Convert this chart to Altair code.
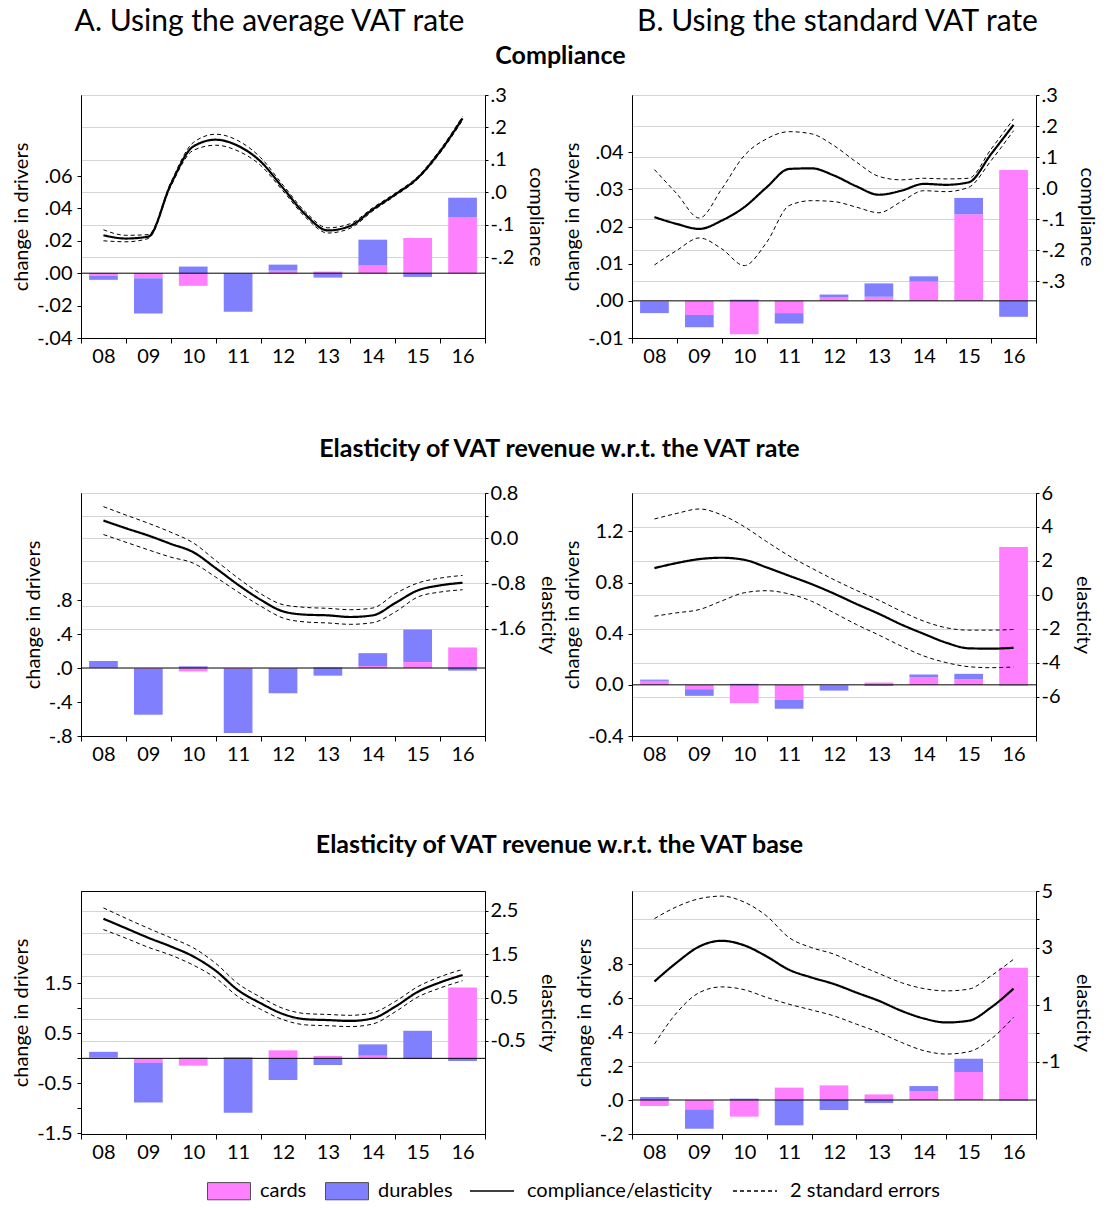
import json
import altair as alt
import pandas as pd

# ---------------- data ----------------
YEARS = ["08", "09", "10", "11", "12", "13", "14", "15", "16"]
IDX = [0, 1, 2, 3, 4, 5, 6, 7, 8]
POS = [0, 0.5, 1, 1.5, 2, 2.5, 3, 3.5, 4, 4.5, 5, 5.5, 6, 6.5, 7, 7.5, 8]
X_TICKS = [-0.5, 0.5, 1.5, 2.5, 3.5, 4.5, 5.5, 6.5, 7.5, 8.5]

SERIES = ["cards", "durables"]
LINE_NAMES = ["compliance/elasticity", "2 standard errors"]
PINK = "#ff80ff"
BLUE = "#8080ff"

HEAD_A = "A. Using the average VAT rate"
HEAD_B = "B. Using the standard VAT rate"
SECTIONS = ["Compliance",
            "Elasticity of VAT revenue w.r.t. the VAT rate",
            "Elasticity of VAT revenue w.r.t. the VAT base"]

# Panel A1: compliance, average rate
A1_CARDS = [-0.0016, -0.0031, -0.0078, -0.0004, 0.0016, 0.0010, 0.0047, 0.0218, 0.0347]
A1_DURABLES = [-0.0025, -0.0218, 0.0041, -0.0234, 0.0037, -0.0027, 0.0160, -0.0023, 0.0119]
A1_LINE = [-0.133, -0.143, -0.137, 0.024, 0.141, 0.162, 0.143, 0.095, 0.013, -0.069, -0.118,
           -0.104, -0.053, -0.007, 0.044, 0.126, 0.228]
A1_UPPER = [-0.116, -0.133, -0.131, 0.030, 0.153, 0.179, 0.159, 0.107, 0.022, -0.061, -0.110,
            -0.097, -0.048, -0.003, 0.048, 0.131, 0.234]
A1_LOWER = [-0.150, -0.153, -0.143, 0.018, 0.129, 0.145, 0.127, 0.083, 0.004, -0.077, -0.126,
            -0.111, -0.058, -0.011, 0.040, 0.121, 0.222]
A1_LDOM, A1_RDOM = [-0.04, 0.11], [-0.45, 0.30]
A1_LT = [-0.04, -0.02, 0, 0.02, 0.04, 0.06]
A1_LL = ["-.04", "-.02", ".00", ".02", ".04", ".06"]
A1_RT = [-0.2, -0.1, 0, 0.1, 0.2, 0.3]
A1_RL = ["-.2", "-.1", ".0", ".1", ".2", ".3"]

# Panel B1: compliance, standard rate
B1_CARDS = [-0.0002, -0.0038, -0.0090, -0.0033, 0.0009, 0.0011, 0.0052, 0.0233, 0.0352]
B1_DURABLES = [-0.0031, -0.0033, 0.0003, -0.0028, 0.0008, 0.0036, 0.0014, 0.0044, -0.0043]
B1_LINE = [-0.093, -0.115, -0.131, -0.104, -0.061, 0.003, 0.062, 0.064, 0.041, 0.006, -0.021,
           -0.008, 0.014, 0.011, 0.019, 0.110, 0.204]
B1_UPPER = [0.060, -0.018, -0.096, -0.002, 0.105, 0.159, 0.182, 0.175, 0.137, 0.084, 0.038,
            0.027, 0.032, 0.030, 0.032, 0.126, 0.223]
B1_LOWER = [-0.247, -0.200, -0.160, -0.195, -0.249, -0.174, -0.056, -0.040, -0.043, -0.061,
            -0.079, -0.043, -0.008, -0.011, 0.003, 0.089, 0.185]
B1_LDOM, B1_RDOM = [-0.01, 0.0554], [-0.482, 0.30]
B1_LT = [-0.01, 0, 0.01, 0.02, 0.03, 0.04]
B1_LL = ["-.01", ".00", ".01", ".02", ".03", ".04"]
B1_RT = [-0.3, -0.2, -0.1, 0, 0.1, 0.2, 0.3]
B1_RL = ["-.3", "-.2", "-.1", ".0", ".1", ".2", ".3"]

# Panel A2: elasticity wrt rate, average rate
A2_CARDS = [0.003, -0.008, -0.040, -0.008, -0.004, 0.012, 0.023, 0.070, 0.242]
A2_DURABLES = [0.080, -0.543, 0.020, -0.758, -0.293, -0.090, 0.152, 0.383, -0.031]
A2_LINE = [0.312, 0.176, 0.047, -0.100, -0.247, -0.529, -0.824, -1.088, -1.294, -1.353, -1.365,
           -1.394, -1.365, -1.147, -0.924, -0.835, -0.788]
A2_UPPER = [0.559, 0.410, 0.265, 0.106, -0.082, -0.394, -0.706, -0.982, -1.176, -1.224, -1.241,
            -1.265, -1.235, -0.982, -0.794, -0.706, -0.659]
A2_LOWER = [0.065, -0.071, -0.206, -0.335, -0.441, -0.688, -0.953, -1.200, -1.412, -1.482, -1.500,
            -1.524, -1.494, -1.306, -1.041, -0.953, -0.912]
A2_LDOM, A2_RDOM = [-0.8, 2.06], [-3.5, 0.8]
A2_LT = [-0.8, -0.4, 0, 0.4, 0.8]
A2_LL = ["-.8", "-.4", ".0", ".4", ".8"]
A2_RT = [-1.6, -1.2, -0.8, -0.4, 0, 0.4, 0.8]
A2_RL = ["-1.6", "", "-0.8", "", "0.0", "", "0.8"]

# Panel B2: elasticity wrt rate, standard rate
B2_CARDS = [0.031, -0.034, -0.143, -0.117, -0.008, 0.018, 0.060, 0.044, 1.077]
B2_DURABLES = [0.010, -0.052, 0.008, -0.070, -0.037, -0.008, 0.021, 0.042, -0.005]
B2_LINE = [1.58, 1.88, 2.11, 2.19, 2.07, 1.62, 1.13, 0.64, 0.08, -0.53, -1.11, -1.74, -2.29,
           -2.81, -3.14, -3.16, -3.11]
B2_UPPER = [4.47, 4.80, 5.06, 4.71, 4.02, 3.14, 2.30, 1.58, 0.90, 0.27, -0.31, -0.96, -1.54,
            -1.93, -2.07, -2.07, -2.03]
B2_LOWER = [-1.25, -1.05, -0.86, -0.35, 0.13, 0.25, 0.06, -0.37, -1.05, -1.74, -2.36, -3.01,
            -3.59, -3.98, -4.22, -4.28, -4.24]
B2_LDOM, B2_RDOM = [-0.4, 1.5], [-8.3, 6.0]
B2_LT = [-0.4, 0, 0.4, 0.8, 1.2]
B2_LL = ["-0.4", "0.0", "0.4", "0.8", "1.2"]
B2_RT = [-6, -4, -2, 0, 2, 4, 6]
B2_RL = ["-6", "-4", "-2", "0", "2", "4", "6"]

# Panel A3: elasticity wrt base, average rate
A3_CARDS = [0.023, -0.090, -0.146, 0.027, 0.160, 0.047, 0.053, -0.015, 1.414]
A3_DURABLES = [0.107, -0.790, 0.013, -1.085, -0.432, -0.133, 0.226, 0.550, -0.053]
A3_LINE = [2.32, 2.10, 1.88, 1.68, 1.45, 1.12, 0.67, 0.37, 0.12, 0.00, -0.02, -0.04, 0.02,
           0.29, 0.63, 0.85, 1.02]
A3_UPPER = [2.57, 2.33, 2.10, 1.88, 1.65, 1.29, 0.82, 0.51, 0.25, 0.13, 0.11, 0.09, 0.15,
            0.41, 0.75, 0.98, 1.15]
A3_LOWER = [2.07, 1.87, 1.66, 1.48, 1.25, 0.95, 0.52, 0.23, -0.01, -0.13, -0.15, -0.17, -0.11,
            0.17, 0.51, 0.72, 0.89]
A3_LDOM, A3_RDOM = [-1.51, 3.34], [-2.65, 2.96]
A3_LT = [-1.5, -1.0, -0.5, 0, 0.5, 1.0, 1.5]
A3_LL = ["-1.5", "", "-0.5", "", "0.5", "", "1.5"]
A3_RT = [-0.5, 0, 0.5, 1.0, 1.5, 2.0, 2.5]
A3_RL = ["-0.5", "", "0.5", "", "1.5", "", "2.5"]

# Panel B3: elasticity wrt base, standard rate
B3_CARDS = [-0.035, -0.055, -0.098, 0.073, 0.086, 0.033, 0.051, 0.165, 0.778]
B3_DURABLES = [0.018, -0.114, 0.008, -0.149, -0.059, -0.018, 0.031, 0.078, -0.003]
B3_LINE = [1.82, 2.49, 3.05, 3.25, 3.09, 2.70, 2.23, 1.96, 1.73, 1.43, 1.14, 0.79, 0.52, 0.38,
           0.44, 0.91, 1.57]
B3_UPPER = [4.03, 4.45, 4.73, 4.82, 4.61, 4.12, 3.36, 3.01, 2.78, 2.43, 2.10, 1.78, 1.57, 1.49,
            1.55, 2.02, 2.60]
B3_LOWER = [-0.38, 0.73, 1.43, 1.63, 1.53, 1.26, 1.02, 0.82, 0.61, 0.32, 0.03, -0.32, -0.61,
            -0.73, -0.65, -0.20, 0.56]
B3_LDOM, B3_RDOM = [-0.2, 1.23], [-3.54, 5.0]
B3_LT = [-0.2, 0, 0.2, 0.4, 0.6, 0.8]
B3_LL = ["-.2", ".0", ".2", ".4", ".6", ".8"]
B3_RT = [-1, 0, 1, 2, 3, 4, 5]
B3_RL = ["-1", "", "1", "", "3", "", "5"]

# ---------------- styling / layout ----------------
FONT = "Lato"
W, H = 404, 243
FS = 20

XLABEL_EXPR = "datum.value < 8 ? " + json.dumps(YEARS) + "[datum.value + 0.5] : ''"


def label_expr(vals, labs):
    parts = " : ".join(f"datum.value == {v} ? '{l}'" for v, l in zip(vals, labs))
    return parts + " : ''"


LEG_COLOR = alt.Legend(orient="none", legendX=126, legendY=1074, direction="horizontal",
                       title=None, symbolType="M-1,-0.4H1V0.4H-1Z", symbolSize=1849,
                       symbolStrokeColor="#505050", symbolStrokeWidth=1, labelOffset=9,
                       columnPadding=16, labelFontSize=FS, labelFont=FONT, labelLimit=0)
LEG_LINE = alt.Legend(orient="none", legendX=388, legendY=1073, direction="horizontal",
                      title=None, symbolType="stroke", symbolSize=1936, symbolStrokeWidth=1.6,
                      symbolStrokeColor="black", labelOffset=12, columnPadding=16,
                      labelFontSize=FS, labelFont=FONT, labelLimit=0)

XAXIS = alt.Axis(values=X_TICKS, labelExpr=XLABEL_EXPR, labelOffset=W / 18, tickSize=5,
                 grid=False, title=None, labelFlush=False, labelOverlap=False,
                 labelPadding=3, labelAlign="center")


def panel(cards, durables, line, upper, lower, ldom, rdom, lt, ll, rt, rl, rtitle, texts):
    xs = alt.Scale(domain=[-0.5, 8.5], nice=False, zero=False)
    ls = alt.Scale(domain=ldom, nice=False, zero=False)
    rs = alt.Scale(domain=rdom, nice=False, zero=False)

    bars_df = pd.DataFrame({
        "idx": IDX * 2,
        "series": ["cards"] * 9 + ["durables"] * 9,
        "order": [0] * 9 + [1] * 9,
        "value": cards + durables,
    })
    laxis = alt.Axis(orient="left", values=lt, labelExpr=label_expr(lt, ll),
                     title="change in drivers", grid=False, tickSize=4, labelOverlap=False,
                     titlePadding=5, labelPadding=5)
    raxis = alt.Axis(orient="right", values=rt, labelExpr=label_expr(rt, rl), title=rtitle,
                     grid=True, gridColor="#d4d4d4", tickSize=3, labelOverlap=False,
                     titlePadding=12, labelPadding=2)

    bars = alt.Chart(bars_df).transform_stack(
        stack="value", groupby=["idx"], as_=["v0", "v1"],
        sort=[alt.SortField("order", order="ascending")], offset="zero"
    ).transform_calculate(
        x0="datum.idx - 0.32", x1="datum.idx + 0.32"
    ).mark_bar().encode(
        x=alt.X("x0:Q", scale=xs, axis=XAXIS),
        x2="x1:Q",
        y=alt.Y("v0:Q", scale=ls, axis=laxis),
        y2="v1:Q",
        color=alt.Color("series:N", scale=alt.Scale(domain=SERIES, range=[PINK, BLUE]),
                        legend=LEG_COLOR),
    )
    zero = alt.Chart(pd.DataFrame({"z": [0]})).mark_rule(color="black", strokeWidth=1).encode(
        y=alt.Y("z:Q", scale=ls, axis=laxis)
    )
    layers = [bars, zero]
    for (t, x, y, size, weight) in texts:
        layers.append(
            alt.Chart(pd.DataFrame({"t": [t]})).mark_text(
                font=FONT, fontSize=size, fontWeight=weight, color="black",
                align="center", baseline="middle"
            ).encode(text="t:N", x=alt.value(x), y=alt.value(y))
        )
    left_layer = alt.layer(*layers)

    n = len(POS)
    line_df = pd.DataFrame({
        "pos": POS * 3,
        "val": line + upper + lower,
        "kind": ["est"] * n + ["upper"] * n + ["lower"] * n,
        "lt": [LINE_NAMES[0]] * n + [LINE_NAMES[1]] * (2 * n),
    })
    dash = alt.StrokeDash("lt:N", scale=alt.Scale(domain=LINE_NAMES, range=[[1, 0], [4, 3]]),
                          legend=LEG_LINE)
    se = alt.Chart(line_df).transform_filter("datum.kind != 'est'").mark_line(
        color="black", strokeWidth=1, interpolate="monotone"
    ).encode(
        x=alt.X("pos:Q", scale=xs, axis=XAXIS),
        y=alt.Y("val:Q", scale=rs, axis=raxis),
        detail="kind:N",
        strokeDash=dash,
    )
    est = alt.Chart(line_df).transform_filter("datum.kind == 'est'").mark_line(
        color="black", strokeWidth=2.2, interpolate="monotone"
    ).encode(
        x=alt.X("pos:Q", scale=xs, axis=XAXIS),
        y=alt.Y("val:Q", scale=rs, axis=raxis),
        strokeDash=dash,
    )
    right_layer = alt.layer(se, est)
    return alt.layer(left_layer, right_layer).resolve_scale(y="independent").properties(
        width=W, height=H)


HF, SF = 30, 25
pA1 = panel(A1_CARDS, A1_DURABLES, A1_LINE, A1_UPPER, A1_LOWER, A1_LDOM, A1_RDOM,
            A1_LT, A1_LL, A1_RT, A1_RL, "compliance",
            [(HEAD_A, 188.5, -73, HF, "normal"), (SECTIONS[0], 479.5, -39, SF, "bold")])
pB1 = panel(B1_CARDS, B1_DURABLES, B1_LINE, B1_UPPER, B1_LOWER, B1_LDOM, B1_RDOM,
            B1_LT, B1_LL, B1_RT, B1_RL, "compliance",
            [(HEAD_B, 205.5, -73, HF, "normal")])
pA2 = panel(A2_CARDS, A2_DURABLES, A2_LINE, A2_UPPER, A2_LOWER, A2_LDOM, A2_RDOM,
            A2_LT, A2_LL, A2_RT, A2_RL, "elasticity",
            [(SECTIONS[1], 478.5, -44, SF, "bold")])
pB2 = panel(B2_CARDS, B2_DURABLES, B2_LINE, B2_UPPER, B2_LOWER, B2_LDOM, B2_RDOM,
            B2_LT, B2_LL, B2_RT, B2_RL, "elasticity", [])
pA3 = panel(A3_CARDS, A3_DURABLES, A3_LINE, A3_UPPER, A3_LOWER, A3_LDOM, A3_RDOM,
            A3_LT, A3_LL, A3_RT, A3_RL, "elasticity",
            [(SECTIONS[2], 478.5, -46, SF, "bold")])
pB3 = panel(B3_CARDS, B3_DURABLES, B3_LINE, B3_UPPER, B3_LOWER, B3_LDOM, B3_RDOM,
            B3_LT, B3_LL, B3_RT, B3_RL, "elasticity", [])

chart = alt.concat(
    pA1, pB1, pA2, pB2, pA3, pB3, columns=2,
    spacing={"row": 155, "column": 147}, bounds="flush"
).properties(
    padding={"left": 11, "top": 6, "right": 2, "bottom": 2}
).configure(
    font=FONT
).configure_view(
    stroke="black", strokeWidth=1
).configure_axis(
    labelFont=FONT, labelFontSize=FS, labelColor="black",
    titleFont=FONT, titleFontSize=FS, titleFontWeight="normal", titleColor="black",
    tickColor="black", domainColor="black", tickWidth=1, domainWidth=1
).configure_legend(
    labelFont=FONT, labelFontSize=FS, labelColor="black"
)

chart.save("out.html", embed_options={"renderer": "svg", "actions": False})
